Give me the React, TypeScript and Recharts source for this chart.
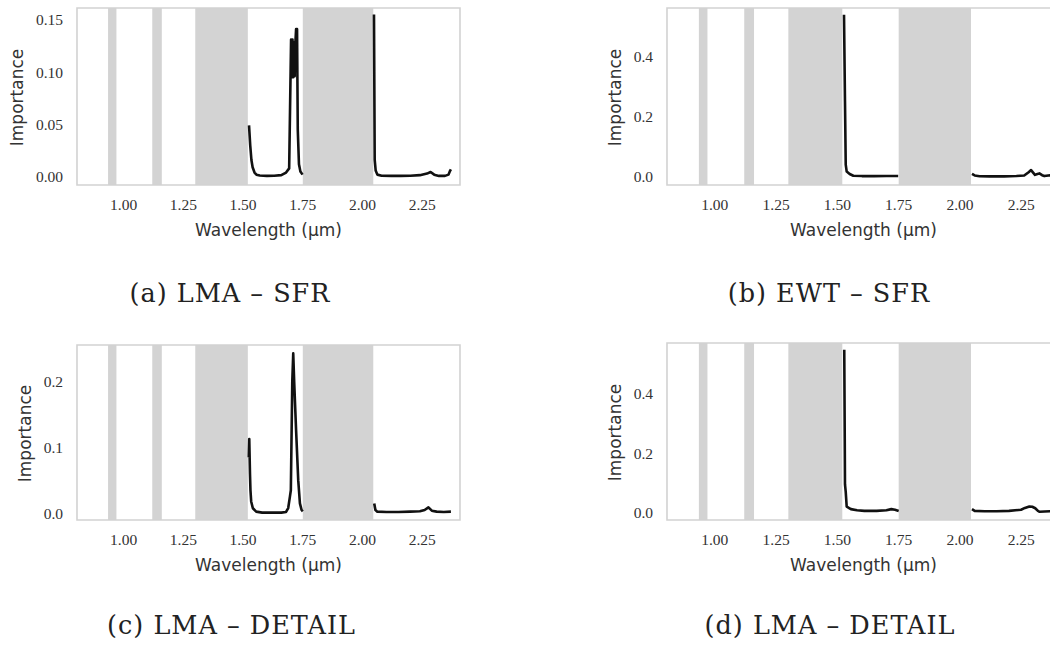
import { LineChart, Line, XAxis, YAxis, ReferenceArea } from 'recharts';

// wavelength ranges that were masked out (µm)
const maskedBands: [number, number][] = [
  [0.935, 0.97],
  [1.12, 1.16],
  [1.3, 1.52],
  [1.75, 2.045],
];

const xTicks = [1.0, 1.25, 1.5, 1.75, 2.0, 2.25];

// (a) LMA – SFR
const wlA = [
  1.525, 1.53, 1.535, 1.54, 1.548, 1.556, 1.57, 1.6, 1.63, 1.66, 1.68, 1.693,
  1.701, 1.704, 1.707, 1.71, 1.713, 1.716, 1.719, 1.722, 1.726, 1.729, 1.734, 1.74, 1.749,
  1.9,
  2.048, 2.051, 2.055, 2.062, 2.08, 2.12, 2.16, 2.2, 2.24, 2.27, 2.285, 2.3, 2.32, 2.345, 2.36, 2.366, 2.37,
];
const impA = [
  0.049, 0.03, 0.016, 0.009, 0.004, 0.002, 0.0012, 0.0008, 0.001, 0.0015, 0.004, 0.008,
  0.131, 0.095, 0.131, 0.095, 0.128, 0.096, 0.128, 0.141, 0.141, 0.045, 0.012, 0.005, 0.002,
  null,
  0.155, 0.016, 0.006, 0.002, 0.001, 0.0008, 0.0008, 0.001, 0.0015, 0.003, 0.0045, 0.002, 0.0008, 0.0008, 0.002, 0.0055, 0.007,
];

// (b) EWT – SFR
const wlB = [
  1.527, 1.531, 1.534, 1.538, 1.55, 1.565, 1.6, 1.65, 1.7, 1.748,
  1.9,
  2.049, 2.06, 2.08, 2.12, 2.18, 2.23, 2.262, 2.28, 2.29, 2.3, 2.306, 2.316, 2.324, 2.335, 2.344, 2.36, 2.375,
];
const impB = [
  0.539, 0.25, 0.04, 0.017, 0.009, 0.003, 0.002, 0.002, 0.0025, 0.002,
  null,
  0.009, 0.004, 0.0015, 0.001, 0.001, 0.002, 0.004, 0.015, 0.022, 0.012, 0.006, 0.009, 0.011, 0.005, 0.002, 0.004, 0.005,
];

// (c) LMA – DETAIL
const wlC = [
  1.524, 1.526, 1.529, 1.531, 1.534, 1.541, 1.555, 1.58, 1.62, 1.66, 1.68, 1.689, 1.696,
  1.7, 1.706, 1.71, 1.714, 1.722, 1.731, 1.738, 1.745, 1.75,
  1.9,
  2.049, 2.054, 2.062, 2.1, 2.15, 2.2, 2.24, 2.26, 2.276, 2.29, 2.31, 2.34, 2.37,
];
const impC = [
  0.085, 0.113, 0.06, 0.035, 0.018, 0.0076, 0.0025, 0.001, 0.001, 0.001, 0.002, 0.008, 0.025,
  0.035, 0.2, 0.243, 0.2, 0.126, 0.05, 0.015, 0.005, 0.003,
  null,
  0.015, 0.005, 0.0025, 0.002, 0.002, 0.0025, 0.003, 0.005, 0.009, 0.004, 0.0025, 0.002, 0.0025,
];

// (d) LMA – DETAIL
const wlD = [
  1.528, 1.53, 1.531, 1.534, 1.538, 1.555, 1.58, 1.61, 1.66, 1.7, 1.72, 1.735, 1.75,
  1.9,
  2.049, 2.06, 2.1, 2.15, 2.2, 2.249, 2.265, 2.283, 2.295, 2.307, 2.318, 2.325, 2.345, 2.375,
];
const impD = [
  0.547, 0.25, 0.095, 0.07, 0.02, 0.012, 0.008, 0.006, 0.006, 0.008, 0.012, 0.01, 0.006,
  null,
  0.012, 0.006, 0.005, 0.005, 0.006, 0.01, 0.016, 0.021, 0.02, 0.015, 0.006, 0.003, 0.004, 0.005,
];

const X_DOMAIN: [number, number] = [0.805, 2.408];

const tickFont = { fontFamily: '"Liberation Serif", serif', fontSize: 15.5, fill: '#333' };
const titleFont = '"DejaVu Sans", sans-serif';

interface PanelProps {
  wl: number[];
  imp: (number | null)[];
  yDomain: [number, number];
  yTicks: number[];
  yDigits: number;
  plot: { left: number; top: number; right: number; bottom: number };
  yLabelDx: number;
}

function Panel({ wl, imp, yDomain, yTicks, yDigits, plot, yLabelDx }: PanelProps) {
  const data = wl.map((w, i) => ({ wl: w, imp: imp[i] }));
  const width = plot.right - plot.left + 87;
  const height = plot.bottom - plot.top + 73;

  return (
    <div style={{ position: 'absolute', left: plot.left - 77, top: plot.top - 8, width, height }}>
      <LineChart width={width} height={height} data={data} margin={{ top: 8, right: 10, bottom: 0, left: 0 }}>
        <XAxis
          dataKey="wl"
          type="number"
          domain={X_DOMAIN}
          allowDataOverflow
          ticks={xTicks}
          tickFormatter={(v: number) => v.toFixed(2)}
          axisLine={false}
          tickLine={false}
          tickMargin={8}
          height={65}
          tick={tickFont}
          label={{
            value: 'Wavelength (μm)',
            content: (p: any) => {
              const vb = p.viewBox;
              return (
                <text
                  x={vb.x + vb.width / 2}
                  y={vb.y + 45}
                  textAnchor="middle"
                  dominantBaseline="central"
                  fontFamily={titleFont}
                  fontSize={17}
                  fill="#333"
                >
                  Wavelength (μm)
                </text>
              );
            },
          }}
        />
        <YAxis
          type="number"
          domain={yDomain}
          allowDataOverflow
          ticks={yTicks}
          tickFormatter={(v: number) => v.toFixed(yDigits)}
          axisLine={false}
          tickLine={false}
          tickMargin={8}
          width={77}
          tick={tickFont}
          label={{
            value: 'Importance',
            content: (p: any) => {
              const vb = p.viewBox;
              const cx = vb.x + vb.width + yLabelDx;
              const cy = vb.y + vb.height / 2 + 1;
              return (
                <text
                  x={cx}
                  y={cy}
                  transform={`rotate(-90, ${cx}, ${cy})`}
                  textAnchor="middle"
                  dominantBaseline="central"
                  fontFamily={titleFont}
                  fontSize={17}
                  fill="#333"
                >
                  Importance
                </text>
              );
            },
          }}
        />
        {maskedBands.map(([a, b]) => (
          <ReferenceArea key={a} x1={a} x2={b} fill="#d3d3d3" fillOpacity={1} stroke="none" />
        ))}
        <ReferenceArea
          x1={X_DOMAIN[0]}
          x2={X_DOMAIN[1]}
          y1={yDomain[0]}
          y2={yDomain[1]}
          fill="none"
          stroke="#d2d2d2"
          strokeWidth={1.6}
        />
        <Line
          type="linear"
          dataKey="imp"
          stroke="#111"
          strokeWidth={2.6}
          strokeLinejoin="round"
          dot={false}
          isAnimationActive={false}
        />
      </LineChart>
    </div>
  );
}

const captionStyle = (cx: number, cy: number): React.CSSProperties => ({
  position: 'absolute',
  left: cx - 200,
  top: cy - 15,
  width: 400,
  lineHeight: '30px',
  textAlign: 'center',
  fontFamily: '"DejaVu Serif", serif',
  fontSize: 25.5,
  letterSpacing: 1,
  color: '#222',
});

export default function App() {
  return (
    <div style={{ position: 'absolute', left: 0, top: 0, width: 1050, height: 648, overflow: 'hidden', background: '#fff' }}>
      <Panel
        wl={wlA}
        imp={impA}
        yDomain={[-0.0079, 0.1612]}
        yTicks={[0, 0.05, 0.1, 0.15]}
        yDigits={2}
        plot={{ left: 77, top: 8, right: 460, bottom: 185 }}
        yLabelDx={-60}
      />
      <Panel
        wl={wlB}
        imp={impB}
        yDomain={[-0.0277, 0.5613]}
        yTicks={[0, 0.2, 0.4]}
        yDigits={1}
        plot={{ left: 667, top: 8, right: 1060, bottom: 185 }}
        yLabelDx={-52}
      />
      <Panel
        wl={wlC}
        imp={impC}
        yDomain={[-0.0102, 0.2558]}
        yTicks={[0, 0.1, 0.2]}
        yDigits={1}
        plot={{ left: 77, top: 345, right: 460, bottom: 520 }}
        yLabelDx={-52}
      />
      <Panel
        wl={wlD}
        imp={impD}
        yDomain={[-0.0245, 0.5695]}
        yTicks={[0, 0.2, 0.4]}
        yDigits={1}
        plot={{ left: 667, top: 343, right: 1060, bottom: 520 }}
        yLabelDx={-52}
      />
      <div style={captionStyle(230, 292.5)}>(a) LMA – SFR</div>
      <div style={captionStyle(829, 293)}>(b) EWT – SFR</div>
      <div style={captionStyle(231.5, 625)}>(c) LMA – DETAIL</div>
      <div style={captionStyle(830, 625)}>(d) LMA – DETAIL</div>
    </div>
  );
}
